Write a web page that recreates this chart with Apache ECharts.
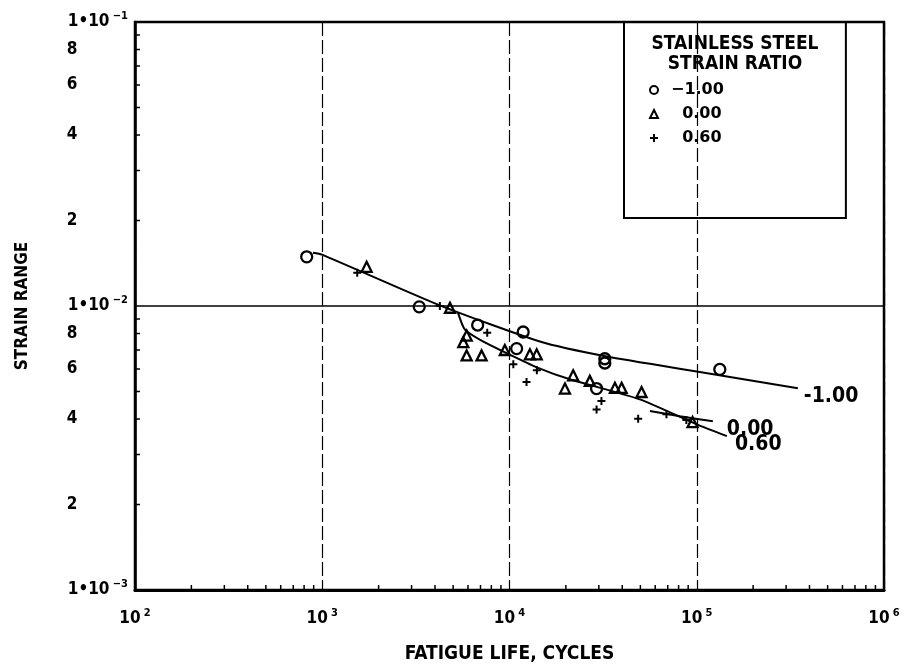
<!DOCTYPE html>
<html>
<head>
<meta charset="utf-8">
<script src="https://cdn.jsdelivr.net/npm/echarts@6/dist/echarts.min.js"></script>
<style>
  html, body { margin: 0; padding: 0; background: #fff; }
  #chart { width: 905px; height: 669px; }
</style>
</head>
<body>
<div id="chart"></div>
<script>
// Axis ranges (log-log)
const xRange = [100, 1000000];
const yRange = [0.001, 0.1];

// Intermediate tick marks along the log axes
const xMinorTicks = [200, 300, 400, 500, 600, 700, 800, 900,
  2000, 3000, 4000, 5000, 6000, 7000, 8000, 9000,
  20000, 30000, 40000, 50000, 60000, 70000, 80000, 90000,
  200000, 300000, 400000, 500000, 600000, 700000, 800000, 900000];
const yMinorTicks = [0.002, 0.003, 0.004, 0.005, 0.006, 0.007, 0.008, 0.009,
  0.02, 0.03, 0.04, 0.05, 0.06, 0.07, 0.08, 0.09];
const yMinorLabelValues = [0.002, 0.004, 0.006, 0.008, 0.02, 0.04, 0.06, 0.08];
const yMinorLabelText = ['2', '4', '6', '8', '2', '4', '6', '8'];

// Strain ratio groups
const ratioNames = ['-1.00', '0.00', '0.60'];

// Test points: [fatigue life (cycles), strain range]
const pointsRm100 = [[826, 0.0149], [3296, 0.00993], [6760, 0.00857], [11830, 0.0081],
  [10917, 0.00708], [32290, 0.00652], [32290, 0.0063], [29170, 0.00512], [132800, 0.00598]];
const pointsR000 = [[1726, 0.01374], [4809, 0.00986], [5905, 0.00787], [5665, 0.00746],
  [5905, 0.0067], [7096, 0.0067], [9440, 0.0070], [12850, 0.00676], [13970, 0.00676],
  [19780, 0.00512], [21880, 0.0057], [26850, 0.00545], [36560, 0.00515], [39700, 0.00515],
  [50720, 0.00498], [95000, 0.0039]];
const pointsR060 = [[1538, 0.0131], [4246, 0.0100], [7604, 0.00805], [10480, 0.00623],
  [14000, 0.00594], [12330, 0.0054], [30970, 0.00463], [29170, 0.00432], [48650, 0.00401],
  [68900, 0.00416], [88000, 0.00397]];

// Fitted curves
const curveRm100 = [[892, 0.0154], [996, 0.01517], [4246, 0.01005], [14520, 0.0075],
  [33110, 0.00664], [100000, 0.00588], [346700, 0.00513]];
const curveR000 = [[56230, 0.00427], [81280, 0.00409], [121900, 0.00393]];
const curveR060 = [[5300, 0.0095], [5780, 0.00826], [7211, 0.0075], [9226, 0.00692],
  [13990, 0.00608], [20990, 0.00552], [49660, 0.00469], [100000, 0.00383], [144900, 0.00348]];

const NARROW = "'Liberation Sans Narrow', 'DejaVu Sans Condensed', 'DejaVu Sans', sans-serif";
const WIDE = "'DejaVu Sans', 'Liberation Sans', sans-serif";
const INK = '#000';

const chart = echarts.init(document.getElementById('chart'), null, { renderer: 'canvas' });

const openSymbolStyle = { color: 'rgba(0,0,0,0)', borderColor: INK, borderWidth: 2.3, opacity: 1 };
const plusPath = 'path://M3,0H5V3H8V5H5V8H3V5H0V3H3Z';

function supExp(v) {
  return String(Math.round(Math.log10(v))).replace('-', '\u2212');
}

const option = {
  backgroundColor: '#fff',
  animation: false,
  title: {
    text: 'STAINLESS STEEL\nSTRAIN RATIO',
    left: 730,
    top: 29,
    textAlign: 'center',
    textStyle: { fontFamily: NARROW, fontSize: 19, fontWeight: 'bold', color: INK, lineHeight: 20 }
  },
  legend: {
    data: ratioNames,
    orient: 'vertical',
    left: 624,
    top: 22,
    padding: [60, 122, 72, 25],
    itemGap: 8,
    itemWidth: 8,
    itemHeight: 8,
    borderColor: INK,
    borderWidth: 2,
    selectedMode: false,
    formatter: name => (name.charAt(0) === '-' ? name.replace('-', '\u2212') : '\u2007' + name),
    textStyle: { fontFamily: WIDE, fontSize: 16, fontWeight: 'bold', color: INK, lineHeight: 16, padding: [0, 0, 0, 8] }
  },
  grid: {
    left: 135, right: 21, top: 22, bottom: 78,
    show: true, borderColor: INK, borderWidth: 2.5, backgroundColor: 'transparent'
  },
  xAxis: {
    type: 'log', logBase: 10, min: xRange[0], max: xRange[1],
    name: 'FATIGUE LIFE, CYCLES',
    nameLocation: 'middle', nameGap: 55,
    nameTextStyle: { fontFamily: NARROW, fontSize: 19, fontWeight: 'bold', color: INK },
    axisLine: { show: true, lineStyle: { color: INK, width: 3 } },
    axisTick: { show: false },
    axisLabel: {
      margin: 18,
      formatter: v => '{b|10} {s|' + supExp(v) + '}',
      rich: {
        b: { fontFamily: NARROW, fontSize: 17, fontWeight: 'bold', color: INK, lineHeight: 22 },
        s: { fontFamily: NARROW, fontSize: 11, fontWeight: 'bold', color: INK, lineHeight: 12, verticalAlign: 'top' }
      }
    },
    splitLine: { show: true, lineStyle: { color: INK, width: 1.2, type: [14, 4] } }
  },
  yAxis: {
    type: 'log', logBase: 10, min: yRange[0], max: yRange[1],
    name: 'STRAIN RANGE',
    nameLocation: 'middle', nameGap: 104,
    nameTextStyle: { fontFamily: NARROW, fontSize: 17, fontWeight: 'bold', color: INK },
    axisLine: { show: true, lineStyle: { color: INK, width: 2.5 } },
    axisTick: { show: false },
    axisLabel: {
      margin: 7,
      formatter: v => '{b|1\u202210} {s|' + supExp(v) + '}',
      rich: {
        b: { fontFamily: NARROW, fontSize: 17, fontWeight: 'bold', color: INK, lineHeight: 22 },
        s: { fontFamily: NARROW, fontSize: 11, fontWeight: 'bold', color: INK, lineHeight: 12, verticalAlign: 'top' }
      }
    },
    splitLine: { show: true, lineStyle: { color: INK, width: 1.5, type: 'solid' } }
  },
  series: [
    {
      name: '-1.00', type: 'scatter', data: pointsRm100, symbol: 'circle', symbolSize: 11,
      itemStyle: openSymbolStyle, z: 5
    },
    {
      name: '0.00', type: 'scatter', data: pointsR000, symbol: 'triangle', symbolSize: 10,
      itemStyle: openSymbolStyle, z: 5
    },
    {
      name: '0.60', type: 'scatter', data: pointsR060, symbol: plusPath, symbolSize: 8,
      itemStyle: { color: INK, opacity: 1 }, z: 5
    },
    {
      name: 'fit -1.00', type: 'line', data: curveRm100, showSymbol: false, smooth: 0.2,
      lineStyle: { color: INK, width: 2 }, z: 4,
      endLabel: {
        show: true, formatter: '-1.00', distance: 6, offset: [0, 8],
        fontFamily: NARROW, fontSize: 21, fontWeight: 'bold', color: INK
      }
    },
    {
      name: 'fit 0.00', type: 'line', data: curveR000, showSymbol: false, smooth: 0.2,
      lineStyle: { color: INK, width: 2 }, z: 4,
      endLabel: {
        show: true, formatter: '0.00', distance: 14, offset: [0, 8],
        fontFamily: NARROW, fontSize: 21, fontWeight: 'bold', color: INK
      }
    },
    {
      name: 'fit 0.60', type: 'line', data: curveR060, showSymbol: false, smooth: 0.2,
      lineStyle: { color: INK, width: 2 }, z: 4,
      endLabel: {
        show: true, formatter: '0.60', distance: 8, offset: [0, 8],
        fontFamily: NARROW, fontSize: 21, fontWeight: 'bold', color: INK
      }
    },
    {
      // intermediate ticks on the bottom axis
      name: 'x ticks', type: 'custom', silent: true, z: 6,
      data: xMinorTicks.map(v => [v, yRange[0]]),
      renderItem: (params, api) => {
        const p = api.coord([api.value(0), api.value(1)]);
        return { type: 'line', shape: { x1: p[0], y1: p[1], x2: p[0], y2: p[1] - 5 },
          style: { stroke: INK, lineWidth: 1.5 } };
      }
    },
    {
      // intermediate ticks on the left axis
      name: 'y ticks', type: 'custom', silent: true, z: 6,
      data: yMinorTicks.map(v => [xRange[0], v]),
      renderItem: (params, api) => {
        const p = api.coord([api.value(0), api.value(1)]);
        return { type: 'line', shape: { x1: p[0], y1: p[1], x2: p[0] + 5, y2: p[1] },
          style: { stroke: INK, lineWidth: 1.5 } };
      }
    },
    {
      // digit labels between the decades of the left axis
      name: 'y minor labels', type: 'custom', silent: true, z: 6,
      data: yMinorLabelValues.map((v, i) => [xRange[0], v, i]),
      renderItem: (params, api) => {
        const p = api.coord([api.value(0), api.value(1)]);
        return { type: 'text', x: p[0] - 63, y: p[1],
          style: { text: yMinorLabelText[api.value(2)], align: 'center', verticalAlign: 'middle',
            fill: INK, font: 'bold 17px ' + NARROW } };
      }
    }
  ]
};

chart.setOption(option);
</script>
</body>
</html>
